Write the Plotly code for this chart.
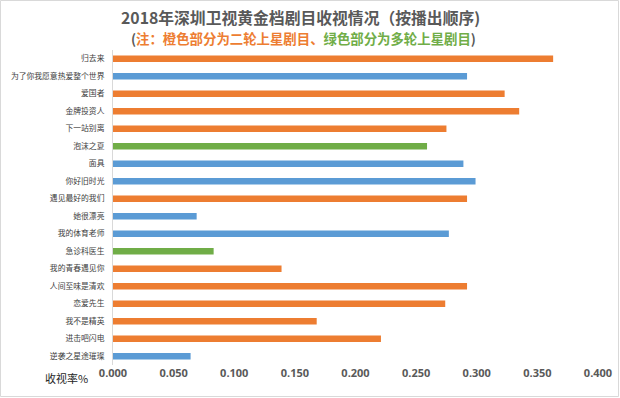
import plotly.graph_objects as go

shows = ["归去来", "为了你我愿意热爱整个世界", "爱国者", "金牌投资人", "下一站别离", "泡沫之夏",
         "面具", "你好旧时光", "遇见最好的我们", "她很漂亮", "我的体育老师", "急诊科医生",
         "我的青春遇见你", "人间至味是清欢", "恋爱先生", "我不是精英", "进击吧闪电", "逆袭之星途璀璨"]
ratings = [0.363, 0.292, 0.323, 0.335, 0.275, 0.259,
           0.289, 0.299, 0.292, 0.069, 0.277, 0.083,
           0.139, 0.292, 0.274, 0.168, 0.221, 0.064]
rounds = ["二轮", "首轮", "二轮", "二轮", "二轮", "多轮",
          "首轮", "首轮", "二轮", "首轮", "首轮", "多轮",
          "二轮", "二轮", "二轮", "二轮", "二轮", "首轮"]
round_colors = {"首轮": "#5B9BD5", "二轮": "#ED7D31", "多轮": "#70AD47"}
x_ticks = [0.0, 0.05, 0.1, 0.15, 0.2, 0.25, 0.3, 0.35, 0.4]

W, H = 620, 398
L, R, T, B = 113, 22, 50, 33
pw, ph = W - L - R, H - T - B

fig = go.Figure(go.Bar(
    x=ratings, y=shows, orientation="h",
    marker=dict(color=[round_colors[r] for r in rounds], line=dict(width=0)),
    width=0.38, hoverinfo="none",
))

font = "Noto Sans CJK SC"
fig.update_layout(
    width=W, height=H,
    margin=dict(l=L, r=R, t=T, b=B, pad=0, autoexpand=False),
    paper_bgcolor="white", plot_bgcolor="white",
    showlegend=False,
    font=dict(family=font, color="#404040"),
    xaxis=dict(range=[0, 0.4], tickvals=x_ticks, tickformat=".3f",
               showgrid=False, zeroline=False, showline=False, automargin=False,
               tickfont=dict(size=11, color="#595959", weight="bold", family="Open Sans"),
               ticks="", fixedrange=True),
    yaxis=dict(autorange="reversed", showgrid=False, zeroline=False, automargin=False,
               showline=True, linecolor="#D9D9D9", linewidth=1,
               tickfont=dict(size=7.8, color="#404040", family=font),
               ticks="", ticklabelstandoff=6, fixedrange=True),
    annotations=[
        dict(text="2018年深圳卫视黄金档剧目收视情况（按播出顺序)",
             xref="paper", yref="paper", x=(300 - L) / pw, y=(H - 18 - B) / ph,
             xanchor="center", yanchor="middle", showarrow=False,
             font=dict(size=15.8, color="#595959", family=font, weight="bold")),
        dict(text="(<span style='color:#ED7D31'>注：橙色部分为二轮上星剧目、</span>"
                  "<span style='color:#70AD47'>绿色部分为多轮上星剧目</span>)",
             xref="paper", yref="paper", x=(303 - L) / pw, y=(H - 38 - B) / ph,
             xanchor="center", yanchor="middle", showarrow=False,
             font=dict(size=13.4, color="#595959", family=font, weight="bold")),
        dict(text="收视率%", xref="paper", yref="paper",
             x=(90 - L) / pw, y=(H - 378 - B) / ph,
             xanchor="right", yanchor="middle", showarrow=False,
             font=dict(size=11, color="#262626", family=font)),
    ],
    shapes=[dict(type="rect", xref="paper", yref="paper",
                 x0=(0.5 - L) / pw, x1=(W - 1.5 - L) / pw,
                 y0=-(B - 1.5) / ph, y1=(ph + T - 0.5) / ph,
                 line=dict(color="#D9D9D9", width=1))],
)

fig.write_html("out.html", config={"displayModeBar": False},
               post_script="document.body.style.margin='0';document.body.style.padding='0';")
